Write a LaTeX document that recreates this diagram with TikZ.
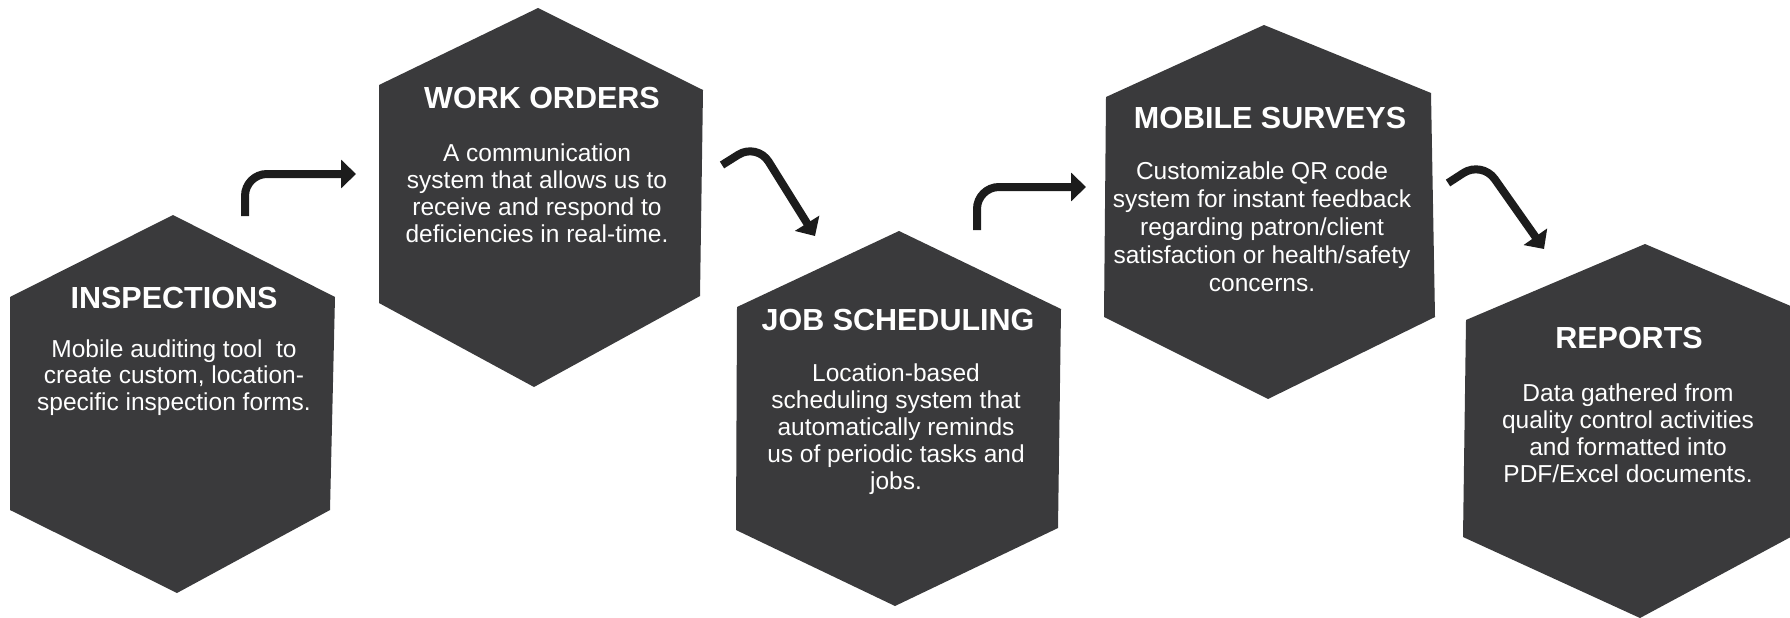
\documentclass[tikz,border=0pt]{standalone}
\usepackage{fontspec}
\setmainfont{Liberation Sans}
\usetikzlibrary{arrows.meta}
\definecolor{hexfill}{RGB}{58,58,60}
\definecolor{arrowcol}{RGB}{28,28,28}
\tikzset{
  hexagon/.style={fill=hexfill},
  titletext/.style={text=white, anchor=base, inner sep=0pt, font=\fontsize{30.5}{33}\selectfont\bfseries},
  bodytext/.style={text=white, anchor=base, inner sep=0pt, align=center, font=\fontsize{24.5}{#1}\selectfont},
  bodytext/.default=27,
  flowarrow/.style={draw=arrowcol, line width=8pt, rounded corners=22pt, -{Triangle[length=15pt,width=28pt]}},
}
\begin{document}
\begin{tikzpicture}[x=1pt,y=-1pt]
\useasboundingbox (0,0) rectangle (1790,618);
\begin{scope}
\clip (0,0) rectangle (1790,618);
% hexagons
\fill[hexagon] (173,215) -- (335,297) -- (330,510) -- (177,593) -- (10,510) -- (10,297) -- cycle;
\fill[hexagon] (538,8) -- (703,90) -- (700,296) -- (534,387) -- (379,303) -- (379,85) -- cycle;
\fill[hexagon] (899,231) -- (1061,309) -- (1058,528) -- (895,606) -- (736,530) -- (737,307) -- cycle;
\fill[hexagon] (1264,25) -- (1431,93) -- (1435,317) -- (1268,399) -- (1104,317) -- (1106,97) -- cycle;
\fill[hexagon] (1645,244) -- (1800,310) -- (1800,532) -- (1640,618) -- (1463,537) -- (1466,320) -- cycle;
\end{scope}
% texts
\node[titletext] (t1) at (174,308) {INSPECTIONS};
\node[bodytext=26.3] (b1) at (174,410) {Mobile auditing tool\ \ to\\create custom, location-\\specific inspection forms.};
\node[titletext] (t2) at (542,108) {WORK ORDERS};
\node[bodytext] (b2) at (537,242) {A communication\\system that allows us to\\receive and respond to\\deficiencies in real-time.};
\node[titletext] (t3) at (898,330) {JOB SCHEDULING};
\node[bodytext] (b3) at (896,489) {Location-based\\scheduling system that\\automatically reminds\\us of periodic tasks and\\jobs.};
\node[titletext] (t4) at (1270,128) {MOBILE SURVEYS};
\node[bodytext=28] (b4) at (1262,291) {Customizable QR code\\system for instant feedback\\regarding patron/client\\satisfaction or health/safety\\concerns.};
\node[titletext] (t5) at (1629,348) {REPORTS};
\node[bodytext] (b5) at (1628,482) {Data gathered from\\quality control activities\\and formatted into\\PDF/Excel documents.};
% arrow coordinates
\coordinate (a1s) at (245,216);
\coordinate (a1e) at (356,174);
\coordinate (a2s) at (722,165);
\coordinate (a2m) at (757,143);
\coordinate (a2e) at (815,236);
\coordinate (a3s) at (977,230);
\coordinate (a3e) at (1086,187);
\coordinate (a4s) at (1448,183);
\coordinate (a4m) at (1482,161);
\coordinate (a4e) at (1544,249);
\draw[flowarrow] (a1s) |- (a1e);
\draw[flowarrow] (a2s) -- (a2m) -- (a2e);
\draw[flowarrow] (a3s) |- (a3e);
\draw[flowarrow] (a4s) -- (a4m) -- (a4e);
\end{tikzpicture}
\end{document}
